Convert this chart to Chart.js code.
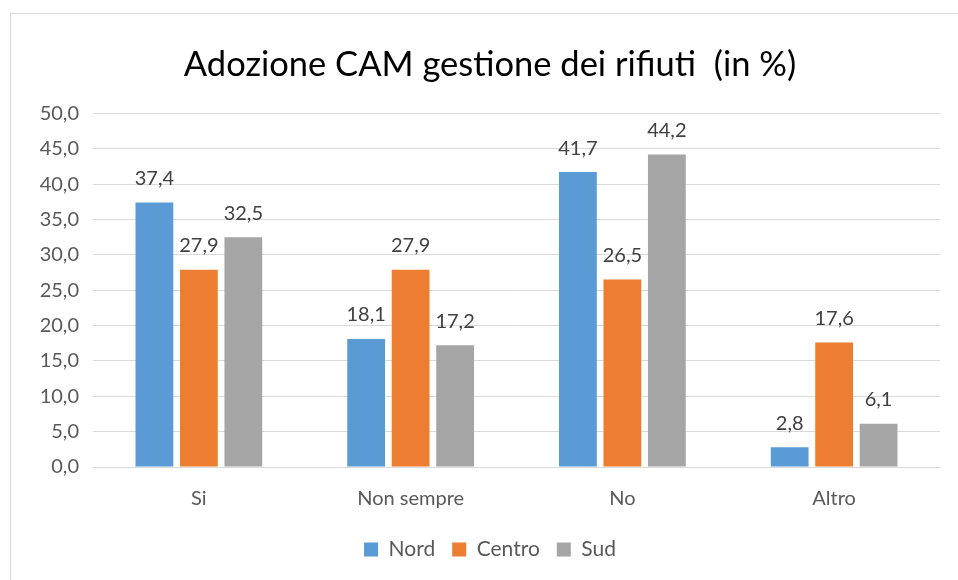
<!DOCTYPE html>
<html>
<head>
<meta charset="utf-8">
<script src="https://cdn.jsdelivr.net/npm/chart.js@4"></script>
<style>
    html, body { margin: 0; padding: 0; background: #fff; }
    #wrap { position: relative; width: 958px; height: 580px; overflow: hidden; }
    #frame { position: absolute; left: 10px; top: 13px; width: 960px; height: 600px; border: 1px solid #d9d9d9; box-sizing: border-box; }
    #wrap canvas { position: absolute; left: 0; top: 0; }
</style>
</head>
<body>
<div id="wrap">
    <div id="frame"></div>
    <canvas id="cam" width="958" height="580"></canvas>
</div>
<script>
const categories = ['Si', 'Non sempre', 'No', 'Altro'];
const nord = [37.4, 18.1, 41.7, 2.8];
const centro = [27.9, 27.9, 26.5, 17.6];
const sud = [32.5, 17.2, 44.2, 6.1];

const fmt = v => v.toFixed(1).replace('.', ',');
const fontFamily = 'Lato, "Open Sans", sans-serif';

// Labels above each bar
const barLabels = {
    id: 'barLabels',
    afterDatasetsDraw(chart) {
        const ctx = chart.ctx;
        ctx.save();
        ctx.font = '20px ' + fontFamily;
        ctx.fillStyle = '#404040';
        ctx.textAlign = 'center';
        ctx.textBaseline = 'bottom';
        chart.data.datasets.forEach((ds, i) => {
            chart.getDatasetMeta(i).data.forEach((bar, j) => {
                ctx.fillText(fmt(ds.data[j]), bar.x, bar.y - 14);
            });
        });
        ctx.restore();
    }
};

new Chart(document.getElementById('cam'), {
    type: 'bar',
    data: {
        labels: categories,
        datasets: [
            { label: 'Nord', data: nord, backgroundColor: '#5b9bd5' },
            { label: 'Centro', data: centro, backgroundColor: '#ed7d31' },
            { label: 'Sud', data: sud, backgroundColor: '#a5a5a5' }
        ]
    },
    options: {
        responsive: false,
        animation: false,
        layout: { padding: { top: 44, right: 18, bottom: 10, left: 40 } },
        datasets: {
            bar: { barPercentage: 0.85, categoryPercentage: 0.63 }
        },
        scales: {
            x: {
                grid: { display: false },
                border: { color: '#d9d9d9' },
                ticks: { color: '#595959', font: { family: fontFamily, size: 20 }, padding: 12 },
                afterFit(scale) { scale.height = 55; }
            },
            y: {
                min: 0,
                max: 50,
                ticks: {
                    stepSize: 5,
                    color: '#595959',
                    font: { family: fontFamily, size: 20 },
                    padding: 14,
                    callback: v => fmt(v)
                },
                grid: { color: '#d9d9d9', drawTicks: false },
                border: { display: false },
                afterFit(scale) { scale.width = 53; }
            }
        },
        plugins: {
            title: {
                display: true,
                text: 'Adozione CAM gestione dei rifiuti  (in %)',
                color: '#000',
                font: { family: fontFamily, size: 34.5, weight: 'normal' },
                padding: { top: 0, bottom: 28 }
            },
            legend: {
                position: 'bottom',
                labels: {
                    color: '#595959',
                    font: { family: fontFamily, size: 21 },
                    boxWidth: 14,
                    boxHeight: 14,
                    padding: 17
                }
            },
            tooltip: { enabled: false }
        }
    },
    plugins: [barLabels]
});
</script>
</body>
</html>
